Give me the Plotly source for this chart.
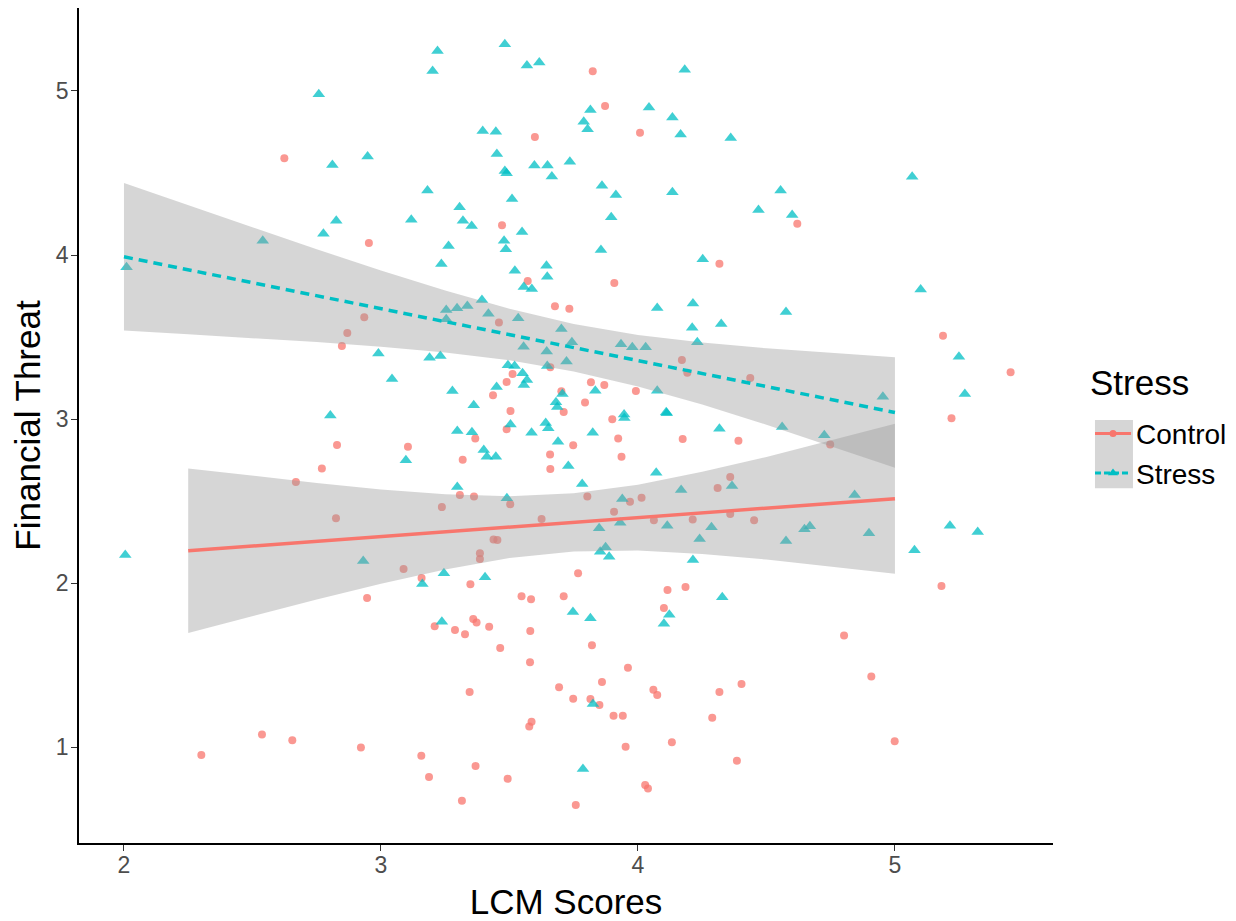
import plotly.graph_objects as go

# ---- data ----
control_x = [2.624, 3.599, 2.953, 3.471, 3.571, 3.824, 3.872, 4.008, 4.620, 4.317, 3.908, 2.770, 2.669,
             3.677, 3.733, 2.935, 3.459, 2.869, 2.848, 3.659, 3.512, 3.489, 3.436, 3.702, 3.711, 3.504,
             3.489, 3.367, 3.748, 2.829, 3.105, 3.318, 3.658, 3.659, 3.307, 3.362, 3.503, 3.237, 2.825,
             3.625, 3.438, 3.453, 3.385, 3.385, 3.088, 4.171, 4.192, 4.437, 3.817, 3.869, 3.992, 3.794,
             3.900, 3.923, 4.174, 4.391, 3.936, 4.359, 4.310, 3.803, 3.969, 4.014, 3.907, 4.062, 4.213,
             4.359, 4.452, 3.767, 5.187, 5.450, 5.220, 4.748, 2.537, 2.655, 2.301, 3.158, 3.348, 2.946,
             3.547, 3.584, 3.711, 3.209, 3.288, 3.327, 3.359, 3.372, 3.421, 3.581, 3.464, 3.580, 3.345,
             3.693, 3.748, 3.586, 3.577, 2.922, 3.157, 3.368, 3.187, 3.493, 3.315, 4.115, 4.185, 4.101,
             3.821, 3.961, 3.860, 4.403, 4.317, 4.060, 4.075, 3.815, 3.850, 3.905, 3.941, 4.289, 3.952,
             4.132, 4.385, 4.028, 4.039, 3.758, 5.181, 4.802, 4.908, 4.999]
control_y = [4.590, 4.720, 4.073, 4.181, 3.841, 5.120, 4.909, 4.746, 4.191, 3.947, 3.829, 2.699, 2.616,
             3.687, 3.673, 3.620, 3.588, 3.524, 3.445, 3.315, 3.274, 3.226, 3.145, 3.169, 3.043, 3.049,
             2.938, 2.882, 2.840, 2.841, 2.831, 2.752, 2.783, 2.695, 2.537, 2.527, 2.480, 2.463, 2.395,
             2.390, 2.266, 2.262, 2.181, 2.147, 2.085, 3.360, 3.282, 3.250, 3.224, 3.207, 3.171, 3.100,
             2.998, 2.882, 2.878, 2.868, 2.770, 2.646, 2.579, 2.527, 2.496, 2.520, 2.435, 2.383, 2.387,
             2.421, 2.383, 2.059, 3.508, 3.285, 3.005, 2.844, 1.077, 1.041, 0.951, 2.030, 1.992, 1.909,
             1.919, 1.901, 1.919, 1.736, 1.713, 1.687, 1.780, 1.760, 1.734, 1.707, 1.604, 1.517, 1.335,
             1.364, 1.295, 1.155, 1.125, 0.998, 0.947, 0.884, 0.817, 0.807, 0.673, 1.957, 1.976, 1.848,
             1.620, 1.484, 1.396, 1.384, 1.335, 1.350, 1.317, 1.293, 1.256, 1.191, 1.191, 1.179, 1.002,
             1.029, 0.917, 0.768, 0.748, 0.646, 1.982, 1.680, 1.430, 1.035]

stress_x = [2.758, 2.776, 2.540, 2.010, 3.220, 3.482, 3.201, 3.568, 3.616, 3.396, 3.447, 3.451, 2.811,
            2.948, 3.482, 3.489, 3.597, 3.648, 3.735, 3.665, 3.181, 3.510, 2.826, 3.118, 3.306, 3.319,
            3.353, 3.549, 3.263, 3.479, 3.486, 3.235, 3.521, 3.644, 3.647, 3.556, 3.587, 4.182, 3.815,
            3.789, 3.804, 4.043, 4.134, 4.166, 4.361, 3.860, 3.914, 4.134, 4.555, 3.896, 4.469, 4.600,
            3.856, 4.252, 5.067, 5.100, 2.005, 3.393, 3.254, 3.296, 3.336, 3.418, 3.254, 3.534, 3.702,
            3.555, 3.645, 3.743, 3.722, 3.647, 2.990, 3.189, 3.231, 3.043, 3.494, 3.520, 3.551, 3.568,
            3.556, 3.450, 3.278, 3.706, 3.681, 3.686, 3.361, 2.803, 3.504, 3.297, 3.354, 3.586, 3.641,
            3.651, 3.689, 3.097, 3.400, 3.412, 3.447, 3.729, 3.297, 3.490, 2.931, 3.245, 3.405, 4.075,
            4.214, 4.576, 4.211, 4.324, 3.934, 3.978, 4.030, 4.231, 3.834, 4.075, 3.946, 3.947, 4.112,
            4.110, 3.824, 4.317, 4.561, 4.071, 3.783, 4.366, 4.168, 3.939, 3.849, 3.931, 4.114, 4.286,
            4.648, 4.669, 4.240, 4.576, 3.853, 3.874, 3.888, 4.214, 5.249, 5.272, 4.953, 4.725, 4.843,
            4.899, 5.214, 5.322, 5.076, 3.161, 3.747, 3.237, 4.328, 4.122, 4.101, 3.815, 3.825, 3.786]
stress_y = [4.980, 4.130, 4.087, 3.925, 5.244, 5.285, 5.122, 5.155, 5.173, 4.756, 4.752, 4.616, 4.549,
            4.600, 4.512, 4.498, 4.545, 4.545, 4.569, 4.478, 4.394, 4.341, 4.209, 4.215, 4.291, 4.209,
            4.177, 4.140, 4.055, 4.087, 4.035, 3.945, 3.904, 3.935, 3.868, 3.805, 3.793, 5.130, 4.884,
            4.813, 4.766, 4.900, 4.838, 4.734, 4.713, 4.423, 4.366, 4.382, 4.394, 4.230, 4.274, 4.244,
            4.030, 3.974, 4.477, 3.789, 2.171, 3.726, 3.665, 3.675, 3.689, 3.642, 3.608, 3.614, 3.549,
            3.441, 3.411, 3.468, 3.350, 3.323, 3.400, 3.374, 3.384, 3.244, 3.328, 3.323, 3.279, 3.238,
            3.207, 3.195, 3.171, 3.152, 3.102, 3.073, 3.084, 3.022, 2.966, 2.927, 2.919, 2.917, 2.976,
            2.943, 2.862, 2.748, 2.811, 2.770, 2.770, 2.713, 2.585, 2.517, 2.134, 2.059, 2.035, 3.677,
            3.704, 3.652, 3.557, 3.579, 3.456, 3.438, 3.438, 3.468, 3.173, 3.173, 3.027, 3.006, 3.035,
            3.042, 2.917, 2.941, 2.951, 2.673, 2.604, 2.591, 2.567, 2.512, 2.334, 2.368, 2.350, 2.340,
            2.328, 2.346, 2.268, 2.256, 2.191, 2.218, 2.161, 2.140, 3.380, 3.152, 3.136, 2.901, 2.537,
            2.304, 2.350, 2.311, 2.200, 1.994, 1.823, 1.764, 1.913, 1.807, 1.752, 1.785, 1.262, 0.866]

# fitted lines and 95% CI bands
control_fit_x = [2.25, 2.50, 2.75, 3.00, 3.25, 3.50, 3.75, 4.00, 4.25, 4.50, 4.75, 5.00]
control_fit_y = [2.197, 2.226, 2.255, 2.283, 2.312, 2.341, 2.370, 2.399, 2.428, 2.456, 2.485, 2.514]
control_upper = [2.699, 2.653, 2.610, 2.570, 2.541, 2.529, 2.547, 2.600, 2.679, 2.769, 2.868, 2.971]
control_lower = [1.695, 1.799, 1.900, 1.996, 2.083, 2.153, 2.193, 2.198, 2.177, 2.143, 2.102, 2.057]

stress_fit_x = [2.00, 2.25, 2.50, 2.75, 3.00, 3.25, 3.50, 3.75, 4.00, 4.25, 4.50, 4.75, 5.00]
stress_fit_y = [3.989, 3.910, 3.831, 3.752, 3.673, 3.594, 3.515, 3.435, 3.356, 3.277, 3.198, 3.119, 3.040]
stress_upper = [4.439, 4.303, 4.168, 4.035, 3.906, 3.783, 3.672, 3.580, 3.513, 3.466, 3.431, 3.402, 3.377]
stress_lower = [3.539, 3.517, 3.494, 3.469, 3.440, 3.405, 3.358, 3.290, 3.199, 3.088, 2.965, 2.836, 2.703]

x_ticks = [2, 3, 4, 5]
y_ticks = [1, 2, 3, 4, 5]

RED = "#F8766D"
TEAL = "#00BFC4"
BAND = "rgba(153,153,153,0.4)"
FONT = "Liberation Sans, Arial, sans-serif"

fig = go.Figure()

# points
fig.add_trace(go.Scatter(x=control_x, y=control_y, mode="markers", showlegend=False,
                         marker=dict(symbol="circle", size=8, color=RED, opacity=0.75, line=dict(width=0))))
fig.add_trace(go.Scatter(x=stress_x, y=stress_y, mode="markers", showlegend=False,
                         marker=dict(symbol="triangle-up", size=11, color=TEAL, opacity=0.75, line=dict(width=0))))

# bands
for fx, up, lo in [(control_fit_x, control_upper, control_lower), (stress_fit_x, stress_upper, stress_lower)]:
    fig.add_trace(go.Scatter(x=fx + fx[::-1], y=up + lo[::-1], mode="lines", fill="toself",
                             fillcolor=BAND, line=dict(width=0), showlegend=False, hoverinfo="skip"))

# fit lines
fig.add_trace(go.Scatter(x=control_fit_x, y=control_fit_y, mode="lines", showlegend=False,
                         line=dict(color=RED, width=3.5)))
fig.add_trace(go.Scatter(x=stress_fit_x, y=stress_fit_y, mode="lines", showlegend=False,
                         line=dict(color=TEAL, width=3.5, dash="9px,6px")))

# legend entries
fig.add_trace(go.Scatter(x=[None], y=[None], mode="lines+markers", name="Control",
                         marker=dict(symbol="circle", size=7, color=RED),
                         line=dict(color=RED, width=3)))
fig.add_trace(go.Scatter(x=[None], y=[None], mode="lines+markers", name="Stress",
                         marker=dict(symbol="triangle-up", size=9, color=TEAL),
                         line=dict(color=TEAL, width=3, dash="6px,3px")))

axis_common = dict(showgrid=False, zeroline=False, showline=True, linecolor="black", linewidth=1.5,
                   ticks="outside", ticklen=6, tickwidth=1.2, tickcolor="#333333",
                   tickfont=dict(family=FONT, size=23, color="#4D4D4D"))

fig.update_layout(
    width=1228, height=913,
    margin=dict(l=71, r=183, t=0, b=78),
    paper_bgcolor="white", plot_bgcolor="white",
    font=dict(family=FONT),
    xaxis=dict(range=[1.825, 5.615], tickvals=x_ticks, ticktext=[str(v) for v in x_ticks],
               ticklabelstandoff=-5,
               title=dict(text="LCM Scores", font=dict(family=FONT, size=35, color="black"), standoff=14),
               **axis_common),
    yaxis=dict(range=[0.415, 5.506], tickvals=y_ticks, ticktext=[str(v) for v in y_ticks],
               ticklabelstandoff=-2,
               title=dict(text="Financial Threat", font=dict(family=FONT, size=35, color="black"), standoff=8),
               **axis_common),
    legend=dict(font=dict(family=FONT, size=28, color="black"),
                x=1.038, xanchor="left", y=0.52, yanchor="top",
                bgcolor="rgba(0,0,0,0)", itemwidth=36, tracegroupgap=0),
    annotations=[dict(text="Stress", xref="paper", yref="paper", x=1.036, y=0.551,
                      xanchor="left", yanchor="middle", showarrow=False,
                      font=dict(family=FONT, size=35, color="black"))],
    shapes=[dict(type="rect", xref="paper", yref="paper", x0=1.0431, x1=1.0821, y0=0.425, y1=0.5066,
                 fillcolor="#D6D6D6", line=dict(width=0), layer="below")],
)

fig.write_html("out.html")
